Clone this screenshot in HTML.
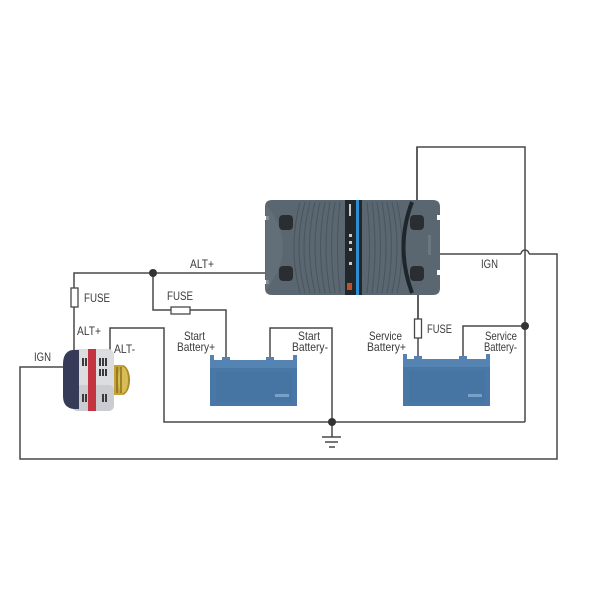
<!DOCTYPE html>
<html><head><meta charset="utf-8"><style>
html,body{margin:0;padding:0;background:#fff;}
svg{display:block;}
text{font-family:"Liberation Sans",sans-serif;font-size:12px;fill:#3a3a3a;}
</style></head><body>
<svg width="600" height="600" viewBox="0 0 600 600" xmlns="http://www.w3.org/2000/svg">
<rect width="600" height="600" fill="#fff"/>
<g fill="none" stroke="#484848" stroke-width="1.5">
  <polyline points="74,350 74,273 285,273"/>
  <polyline points="153,273 153,310 171,310"/>
  <polyline points="190,310 226,310 226,359"/>
  <polyline points="110,350 110,328 164,328 164,422 525,422"/>
  <polyline points="270,359 270,328 332,328 332,437"/>
  <polyline points="63,367 20,367 20,459 557,459 557,254 529,254"/>
  <path d="M521,254 A4,4 0 0 1 529,254"/>
  <polyline points="521,254 440,254"/>
  <polyline points="417,222 417,147 525,147 525,422"/>
  <polyline points="418,273 418,319"/>
  <polyline points="418,338 418,358"/>
  <polyline points="463,358 463,326 525,326"/>
  <line x1="322" y1="437" x2="341" y2="437"/>
  <line x1="325" y1="442" x2="338" y2="442"/>
  <line x1="329" y1="447" x2="335" y2="447"/>
</g>
<g fill="#fff" stroke="#484848" stroke-width="1.3">
  <rect x="71" y="288" width="7" height="19"/>
  <rect x="171" y="307" width="19" height="7"/>
  <rect x="414.5" y="319" width="7" height="19"/>
</g>
<g fill="#333">
  <circle cx="153" cy="273" r="4"/>
  <circle cx="332" cy="422" r="4"/>
  <circle cx="525" cy="326" r="4"/>
</g>

<!-- Device -->
<g>
  <path d="M272,200 H433 Q440,200 440,207 V215 H437 V220 H440 V270 H437 V275 H440 V288 Q440,295 433,295 H272 Q265,295 265,288 V284 H269 V280 H265 V220 H269 V216 H265 V207 Q265,200 272,200 Z" fill="#5a6670"/>
  <path d="M266,205 Q300,247 266,290 Z" fill="#64727c" opacity="0.8"/>
  <g stroke="#4a555d" stroke-width="1" fill="none">
    <path d="M300,202 Q288,247 300,293"/>
    <path d="M305,202 Q293,247 305,293"/>
    <path d="M310,202 Q298,247 310,293"/>
    <path d="M315,202 Q304,247 315,293"/>
    <path d="M320,202 Q310,247 320,293"/>
    <path d="M325,202 Q316,247 325,293"/>
    <path d="M330,202 Q322,247 330,293"/>
    <path d="M335,202 Q328,247 335,293"/>
    <path d="M340,202 Q335,247 340,293"/>
    <path d="M367,202 Q372,247 367,293"/>
    <path d="M372,202 Q378,247 372,293"/>
    <path d="M377,202 Q384,247 377,293"/>
    <path d="M382,202 Q390,247 382,293"/>
    <path d="M387,202 Q396,247 387,293"/>
    <path d="M392,202 Q402,247 392,293"/>
    <path d="M397,202 Q407,247 397,293"/>
  </g>
  <path d="M412,202 Q395,247 412,293" stroke="#1f262b" stroke-width="4" fill="none"/>
  <rect x="345" y="200" width="17" height="95" fill="#22272c"/>
  <rect x="356" y="200" width="3" height="95" fill="#2b8fd2"/>
  <g fill="#c8ccd0">
    <rect x="349" y="204" width="2" height="12"/>
    <rect x="349" y="234" width="3" height="3"/>
    <rect x="349" y="241" width="3" height="3"/>
    <rect x="349" y="248" width="3" height="3"/>
    <rect x="349" y="262" width="3" height="3"/>
  </g>
  <rect x="347" y="283" width="5" height="7" fill="#c0502a"/>
  <g fill="#2a2e33">
    <rect x="279" y="215" width="14" height="15" rx="4"/>
    <rect x="279" y="266" width="14" height="15" rx="4"/>
    <rect x="410" y="215" width="14" height="15" rx="4"/>
    <rect x="410" y="266" width="14" height="15" rx="4"/>
  </g>
  <rect x="428" y="235" width="3" height="20" fill="#6a7780"/>
</g>
<g stroke="#484848" stroke-width="1.5">
  <line x1="417" y1="147" x2="417" y2="200"/>
  <line x1="418" y1="295" x2="418" y2="319"/>
</g>

<!-- Batteries -->
<g>
  <rect x="210" y="355" width="4" height="6" fill="#5582b0"/>
  <rect x="293" y="355" width="4" height="6" fill="#5582b0"/>
  <rect x="222" y="357" width="8" height="4" fill="#5582b0"/>
  <rect x="266" y="357" width="8" height="4" fill="#5582b0"/>
  <rect x="210" y="360" width="87" height="46" fill="#4a78a6"/>
  <rect x="210" y="360" width="87" height="8" fill="#5584b2"/>
  <rect x="216" y="372" width="76" height="30" fill="#4675a3"/>
  <rect x="275" y="394" width="14" height="3" fill="#7aa0c6"/>

  <rect x="403" y="354" width="4" height="6" fill="#5582b0"/>
  <rect x="486" y="354" width="4" height="6" fill="#5582b0"/>
  <rect x="414" y="356" width="8" height="4" fill="#5582b0"/>
  <rect x="459" y="356" width="8" height="4" fill="#5582b0"/>
  <rect x="403" y="359" width="87" height="47" fill="#4a78a6"/>
  <rect x="403" y="359" width="87" height="8" fill="#5584b2"/>
  <rect x="409" y="371" width="76" height="31" fill="#4675a3"/>
  <rect x="468" y="394" width="14" height="3" fill="#7aa0c6"/>
</g>

<!-- Alternator -->
<g>
  <ellipse cx="122" cy="380" rx="8" ry="15" fill="#a88a2a"/>
  <rect x="113" y="365" width="10" height="30" fill="#c4a43a"/>
  <ellipse cx="123" cy="380" rx="5" ry="13" fill="#d8bc55"/>
  <line x1="117" y1="367" x2="117" y2="393" stroke="#8a6e1a" stroke-width="1.5"/>
  <line x1="121" y1="367" x2="121" y2="393" stroke="#8a6e1a" stroke-width="1.5"/>
  <rect x="72" y="349" width="42" height="62" rx="6" fill="#dcdde1"/>
  <rect x="72" y="385" width="42" height="26" rx="5" fill="#cbccd1"/>
  <path d="M72,350 Q63,352 63,364 V396 Q63,408 74,409 H79 V350 Z" fill="#363c58"/>
  <rect x="88" y="349" width="8" height="62" fill="#c43440"/>
  <g fill="#3a3a3a">
    <rect x="82" y="358" width="2" height="8"/><rect x="85" y="358" width="2" height="8"/>
    <rect x="99" y="358" width="2" height="8"/><rect x="102" y="358" width="2" height="8"/><rect x="105" y="358" width="2" height="8"/>
    <rect x="99" y="369" width="2" height="7"/><rect x="102" y="369" width="2" height="7"/><rect x="105" y="369" width="2" height="7"/>
    <rect x="82" y="394" width="2" height="8"/><rect x="85" y="394" width="2" height="8"/>
    <rect x="102" y="394" width="2" height="8"/><rect x="105" y="394" width="2" height="8"/>
  </g>
</g>

<!-- Labels -->
<text x="190" y="268" textLength="24" lengthAdjust="spacingAndGlyphs">ALT+</text>
<text x="84" y="302" textLength="26" lengthAdjust="spacingAndGlyphs">FUSE</text>
<text x="167" y="300" textLength="26" lengthAdjust="spacingAndGlyphs">FUSE</text>
<text x="77" y="335" textLength="24" lengthAdjust="spacingAndGlyphs">ALT+</text>
<text x="114" y="353" textLength="21" lengthAdjust="spacingAndGlyphs">ALT-</text>
<text x="34" y="361" textLength="17" lengthAdjust="spacingAndGlyphs">IGN</text>
<text x="184" y="340" textLength="21" lengthAdjust="spacingAndGlyphs">Start</text>
<text x="177" y="351" textLength="38" lengthAdjust="spacingAndGlyphs">Battery+</text>
<text x="298" y="340" textLength="22" lengthAdjust="spacingAndGlyphs">Start</text>
<text x="292" y="351" textLength="36" lengthAdjust="spacingAndGlyphs">Battery-</text>
<text x="427" y="333" textLength="25" lengthAdjust="spacingAndGlyphs">FUSE</text>
<text x="481" y="268" textLength="17" lengthAdjust="spacingAndGlyphs">IGN</text>
<text x="369" y="340" textLength="33" lengthAdjust="spacingAndGlyphs">Service</text>
<text x="367" y="351" textLength="39" lengthAdjust="spacingAndGlyphs">Battery+</text>
<text x="485" y="340" textLength="32" lengthAdjust="spacingAndGlyphs">Service</text>
<text x="484" y="351" textLength="33" lengthAdjust="spacingAndGlyphs">Battery-</text>
</svg>
</body></html>
